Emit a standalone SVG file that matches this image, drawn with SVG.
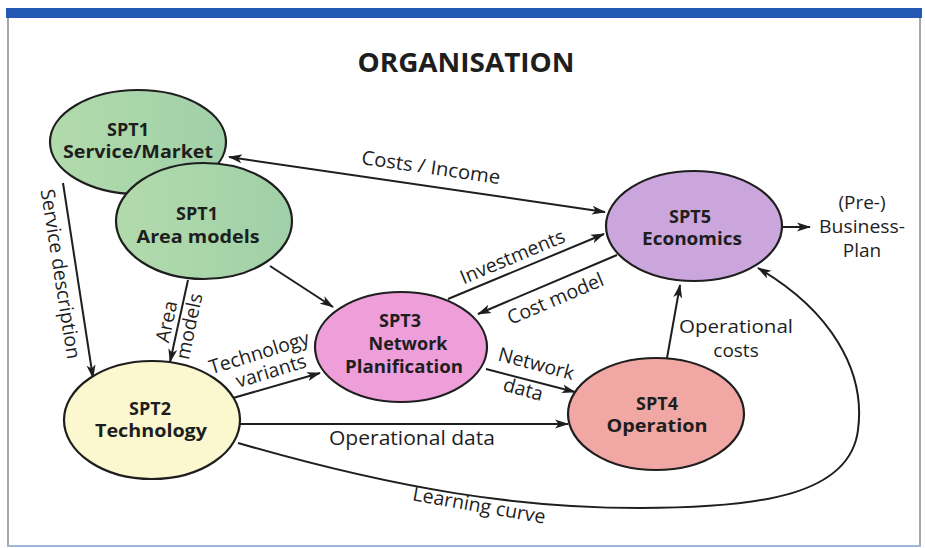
<svg xmlns="http://www.w3.org/2000/svg" width="925" height="548" viewBox="0 0 925 548">
<defs>
<marker id="arr" markerUnits="userSpaceOnUse" markerWidth="14" markerHeight="10" refX="13" refY="5" orient="auto-start-reverse">
<path d="M0,0.5 L14,5 L0,9.5 L3.5,5 z" fill="#1e1e1e"/>
</marker>
<linearGradient id="gGreen" x1="0" y1="0" x2="1" y2="0">
<stop offset="0" stop-color="#b2dbac"/><stop offset="1" stop-color="#a0d0a8"/>
</linearGradient>
</defs>
<style>
.node ellipse{stroke:#1e1e1e;stroke-width:2.2}
.nt{font-family:"Open Sans","Liberation Sans",sans-serif;font-weight:bold;font-size:18px;fill:#1e1e1e;text-anchor:middle}
.lb{font-family:"Open Sans","Liberation Sans",sans-serif;font-size:19.5px;fill:#1e1e1e;text-anchor:middle}
.ln{fill:none;stroke:#1e1e1e;stroke-width:2}
</style>
<rect x="0" y="0" width="925" height="548" fill="#ffffff"/>
<rect x="6" y="8" width="916" height="10" fill="#2159b4"/>
<line x1="8" y1="18" x2="8" y2="546" stroke="#8a8a8a" stroke-width="1.5"/>
<line x1="920" y1="18" x2="920" y2="546" stroke="#8a8a8a" stroke-width="1.5"/>
<line x1="7" y1="546" x2="921" y2="546" stroke="#9db7d8" stroke-width="2"/>
<text x="466" y="72" font-family="'Open Sans','Liberation Sans',sans-serif" font-weight="bold" font-size="27" fill="#1e1e1e" text-anchor="middle" textLength="217" lengthAdjust="spacingAndGlyphs">ORGANISATION</text>

<g id="connectors">
<line class="ln" x1="229" y1="157" x2="605" y2="212" marker-start="url(#arr)" marker-end="url(#arr)"/>
<line class="ln" x1="270" y1="266" x2="333" y2="307" marker-end="url(#arr)"/>
<line class="ln" x1="63" y1="183" x2="93" y2="378" marker-end="url(#arr)"/>
<line class="ln" x1="188" y1="280" x2="170" y2="362" marker-end="url(#arr)"/>
<line class="ln" x1="233" y1="398" x2="320" y2="373" marker-end="url(#arr)"/>
<line class="ln" x1="240" y1="424" x2="568" y2="424" marker-end="url(#arr)"/>
<path class="ln" d="M238,443 C400,490 520,508 640,508 C760,508 850,495 858,430 C866,370 830,310 758,268" marker-end="url(#arr)"/>
<line class="ln" x1="448" y1="299" x2="604" y2="234" marker-end="url(#arr)"/>
<line class="ln" x1="617" y1="255" x2="478" y2="314" marker-end="url(#arr)"/>
<line class="ln" x1="486" y1="369" x2="575" y2="392" marker-end="url(#arr)"/>
<line class="ln" x1="667" y1="358" x2="680" y2="285" marker-end="url(#arr)"/>
<line class="ln" x1="782" y1="227" x2="810" y2="227" marker-end="url(#arr)"/>
</g>

<g id="labels">
<text class="lb" transform="translate(430,174) rotate(8.3)" textLength="140" lengthAdjust="spacingAndGlyphs">Costs / Income</text>
<text class="lb" transform="translate(54,275) rotate(81)">Service description</text>
<text class="lb" transform="translate(178,324) rotate(-78)"><tspan x="0" y="-5">Area</tspan><tspan x="0" y="18">models</tspan></text>
<text class="lb" transform="translate(262,362) rotate(-17)"><tspan x="0" y="-3">Technology</tspan><tspan x="6" y="18">variants</tspan></text>
<text class="lb" x="412" y="445" textLength="166" lengthAdjust="spacingAndGlyphs">Operational data</text>
<text class="lb" transform="translate(478,512) rotate(10)">Learning curve</text>
<text class="lb" transform="translate(515,263) rotate(-22.7)">Investments</text>
<text class="lb" transform="translate(558,305) rotate(-23)">Cost model</text>
<text class="lb" transform="translate(533,376) rotate(15)"><tspan x="0" y="-6">Network</tspan><tspan x="-6" y="22">data</tspan></text>
<text class="lb" style="font-size:19px"><tspan x="736" y="333" textLength="114" lengthAdjust="spacingAndGlyphs">Operational</tspan><tspan x="736" y="357">costs</tspan></text>
<text class="lb" style="font-size:19px"><tspan x="862" y="209">(Pre-)</tspan><tspan x="862" y="233" textLength="86" lengthAdjust="spacingAndGlyphs">Business-</tspan><tspan x="862" y="257">Plan</tspan></text>
</g>

<g id="spt1-market" class="node">
<ellipse cx="138" cy="142" rx="88" ry="52" fill="url(#gGreen)"/>
<text class="nt"><tspan x="128" y="136">SPT1</tspan><tspan x="138" y="158" textLength="150" lengthAdjust="spacingAndGlyphs">Service/Market</tspan></text>
</g>
<g id="spt1-area" class="node">
<ellipse cx="204" cy="221" rx="88" ry="58" fill="url(#gGreen)"/>
<text class="nt"><tspan x="197" y="220">SPT1</tspan><tspan x="198" y="243" textLength="123" lengthAdjust="spacingAndGlyphs">Area models</tspan></text>
</g>
<g id="spt2" class="node">
<ellipse cx="152" cy="420" rx="88" ry="59" fill="#fbf8cf"/>
<text class="nt"><tspan x="150" y="415">SPT2</tspan><tspan x="151" y="437" textLength="112" lengthAdjust="spacingAndGlyphs">Technology</tspan></text>
</g>
<g id="spt3" class="node">
<ellipse cx="401" cy="347" rx="86" ry="55" fill="#ee9fd9"/>
<text class="nt"><tspan x="400" y="327">SPT3</tspan><tspan x="408" y="350">Network</tspan><tspan x="404" y="373" textLength="118" lengthAdjust="spacingAndGlyphs">Planification</tspan></text>
</g>
<g id="spt5" class="node">
<ellipse cx="694" cy="226" rx="88" ry="55" fill="#caa6dc"/>
<text class="nt"><tspan x="690" y="223">SPT5</tspan><tspan x="692" y="245" textLength="100" lengthAdjust="spacingAndGlyphs">Economics</tspan></text>
</g>
<g id="spt4" class="node">
<ellipse cx="656" cy="414" rx="88" ry="56" fill="#f1a7a3"/>
<text class="nt"><tspan x="657" y="410">SPT4</tspan><tspan x="657" y="432" textLength="101" lengthAdjust="spacingAndGlyphs">Operation</tspan></text>
</g>
</svg>
